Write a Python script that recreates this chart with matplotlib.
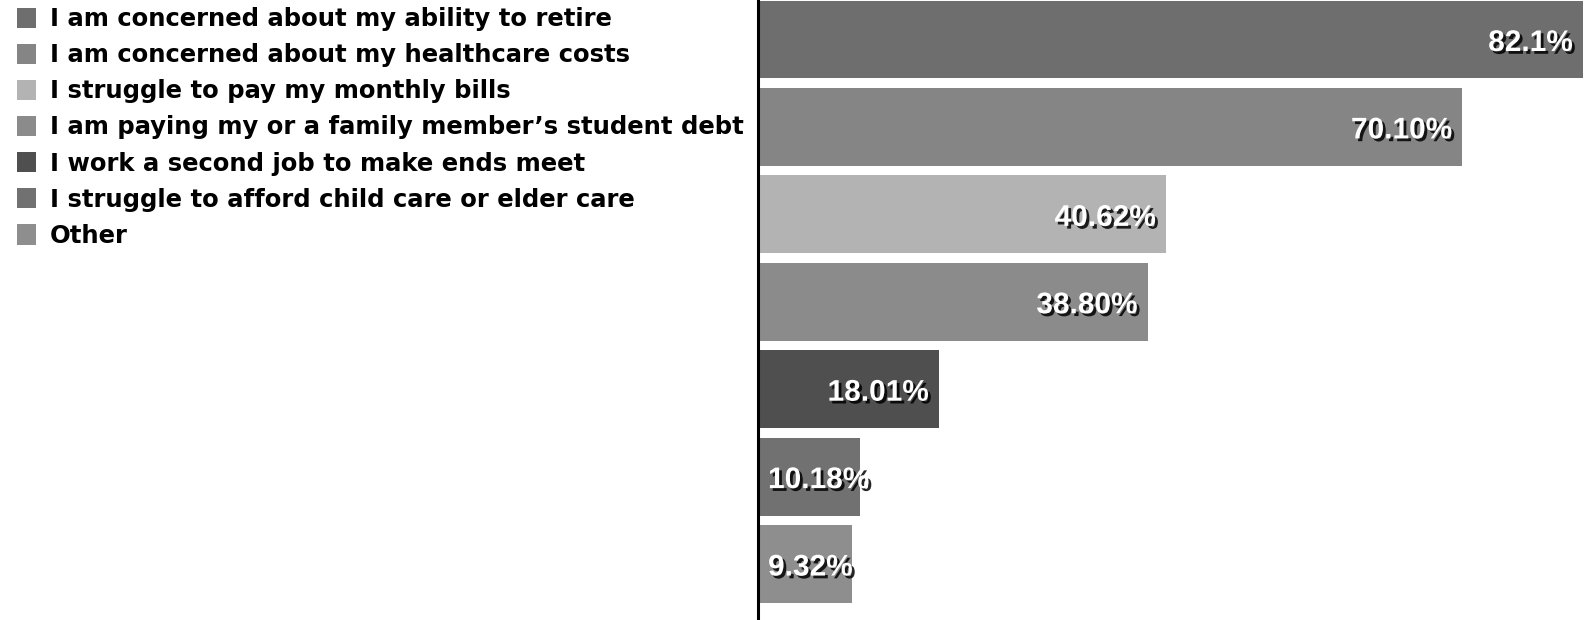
import matplotlib.pyplot as plt
import matplotlib.patheffects as pe

# survey answers, top to bottom
answers = [
    "I am concerned about my ability to retire",
    "I am concerned about my healthcare costs",
    "I struggle to pay my monthly bills",
    "I am paying my or a family member\u2019s student debt",
    "I work a second job to make ends meet",
    "I struggle to afford child care or elder care",
    "Other",
]
values = [82.1, 70.10, 40.62, 38.80, 18.01, 10.18, 9.32]
value_labels = ["82.1%", "70.10%", "40.62%", "38.80%", "18.01%", "10.18%", "9.32%"]
colors = ["#6e6e6e", "#858585", "#b3b3b3", "#8b8b8b", "#4f4f4f", "#717171", "#8e8e8e"]

plt.rcParams['font.family'] = ['Liberation Sans', 'DejaVu Sans']

fig = plt.figure(figsize=(15.87, 6.2), dpi=100)
ax = fig.add_axes([758 / 1587, 0, 1 - 758 / 1587, 1])

ypos = list(range(len(values)))
bars = ax.barh(ypos, values, height=0.89, color=colors, edgecolor='none')

ax.set_xlim(0, 82.5)
ax.set_ylim(6.64, -0.452)

shadow = [pe.SimplePatchShadow(offset=(2, -2), shadow_rgbFace='black', alpha=0.85), pe.Normal()]
for y, v, lab in zip(ypos, values, value_labels):
    if v > 15:
        ax.text(v - 1.0, y + 0.04, lab, ha='right', va='center', color='white',
                fontsize=21.5, fontweight='bold', path_effects=shadow)
    else:
        ax.text(1.0, y + 0.04, lab, ha='left', va='center', color='white',
                fontsize=21.5, fontweight='bold', path_effects=shadow)

for s in ['top', 'right', 'bottom']:
    ax.spines[s].set_visible(False)
ax.spines['left'].set_linewidth(2.2)
ax.spines['left'].set_color('black')
ax.set_xticks([])
ax.set_yticks([])

fig.legend(bars, answers, loc='upper left', bbox_to_anchor=(17 / 1587, 1 - 7 / 620),
           frameon=False, prop={'family': 'DejaVu Sans', 'weight': 'bold', 'size': 17.5},
           handlelength=0.8, handleheight=0.9, handletextpad=0.55,
           labelspacing=0.5, borderpad=0, borderaxespad=0)

plt.savefig("out.png", dpi=100)
